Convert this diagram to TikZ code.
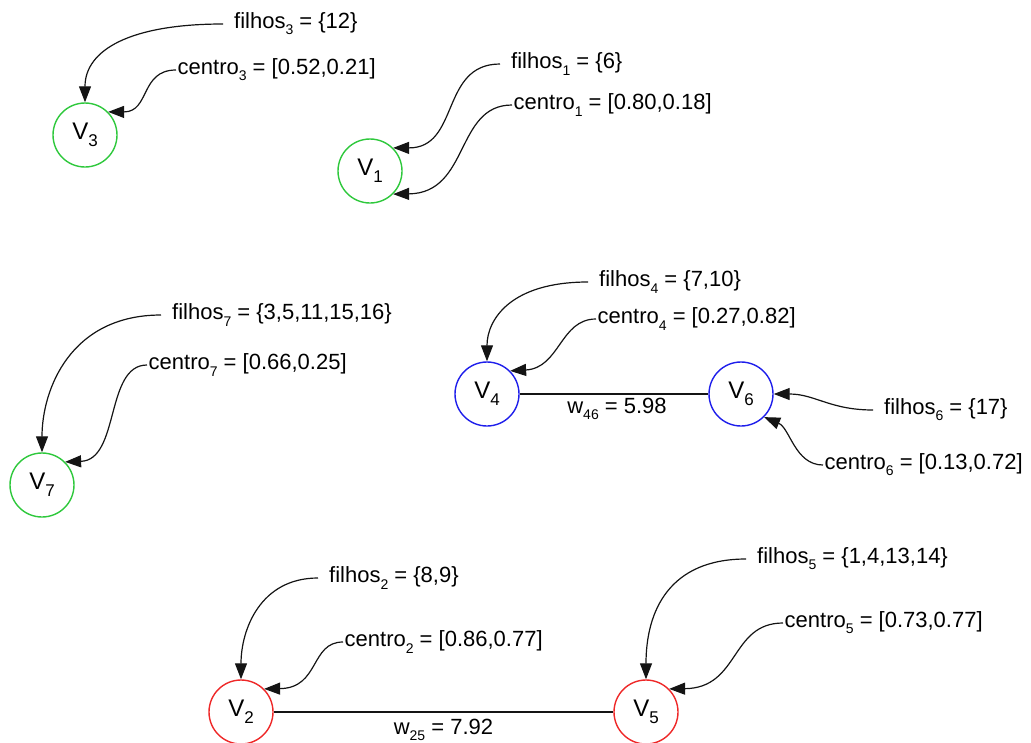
\documentclass[tikz,border=0pt]{standalone}
\usepackage{fontspec}
\setmainfont{Liberation Sans}
\usetikzlibrary{arrows.meta}
\definecolor{vgreen}{RGB}{46,200,60}
\definecolor{vblue}{RGB}{30,30,235}
\definecolor{vred}{RGB}{238,40,40}
\definecolor{wire}{RGB}{20,20,20}
% lowered, smaller index digits
\newcommand{\sbs}[1]{\raisebox{-0.28em}{\fontsize{14}{14}\selectfont #1}}
% vertex index digits
\newcommand{\vsb}[1]{\raisebox{-0.3em}{\fontsize{17}{17}\selectfont #1}}
\begin{document}
\begin{tikzpicture}[x=1pt,y=-1pt,
  txt/.style={font=\fontsize{22}{26}\selectfont},
  vtx/.style={circle,draw,line width=1.4pt,minimum size=64pt,inner sep=0pt,
    font=\fontsize{24}{28}\selectfont},
  grp1/.style={vtx,draw=vgreen},
  grp2/.style={vtx,draw=vblue},
  grp3/.style={vtx,draw=vred},
  kids/.style={txt,anchor=west,inner xsep=11pt,inner ysep=0pt},
  ctr/.style={txt,anchor=west,inner xsep=1.5pt,inner ysep=0pt},
  ptr/.style={draw=wire,line width=1.2pt,-{Triangle[length=16pt,width=12pt]}},
  link/.style={draw=wire,line width=1.3pt},
  wlab/.style={txt,inner sep=0pt}]
\useasboundingbox (0,0) rectangle (1031,742);

% clusters of vertices
\node[grp1] (V3) at (85,135) {V\vsb{3}};
\node[grp1] (V1) at (370,171) {V\vsb{1}};
\node[grp1] (V7) at (42,485) {V\vsb{7}};
\node[grp2] (V4) at (487,394) {V\vsb{4}};
\node[grp2] (V6) at (741,394) {V\vsb{6}};
\node[grp3] (V2) at (241,712) {V\vsb{2}};
\node[grp3] (V5) at (646,712) {V\vsb{5}};

% annotations
\node[kids] (f3) at (223,24) {filhos\sbs{3} = \{12\}};
\node[ctr]  (c3) at (176,70) {centro\sbs{3} = [0.52,0.21]};
\node[kids] (f1) at (500,64) {filhos\sbs{1} = \{6\}};
\node[ctr]  (c1) at (512,105) {centro\sbs{1} = [0.80,0.18]};
\node[kids] (f7) at (161,315) {filhos\sbs{7} = \{3,5,11,15,16\}};
\node[ctr]  (c7) at (147,365) {centro\sbs{7} = [0.66,0.25]};
\node[kids] (f4) at (588,282) {filhos\sbs{4} = \{7,10\}};
\node[ctr]  (c4) at (596,319) {centro\sbs{4} = [0.27,0.82]};
\node[kids] (f6) at (873,410) {filhos\sbs{6} = \{17\}};
\node[ctr]  (c6) at (823,465) {centro\sbs{6} = [0.13,0.72]};
\node[kids] (f2) at (318,578) {filhos\sbs{2} = \{8,9\}};
\node[ctr]  (c2) at (343,642) {centro\sbs{2} = [0.86,0.77]};
\node[kids] (f5) at (746,559) {filhos\sbs{5} = \{1,4,13,14\}};
\node[ctr]  (c5) at (783,623) {centro\sbs{5} = [0.73,0.77]};

% pointers from annotations to vertices
\draw[ptr] (f3.west) .. controls (130,24) and (85,50) .. (V3.north);
\draw[ptr] (c3.west) .. controls (140,70) and (150,112) .. (V3.45);
\draw[ptr] (f1.west) .. controls (440,64) and (460,148) .. (V1.45);
\draw[ptr] (c1.west) .. controls (455,105) and (470,193) .. (V1.-45);
\draw[ptr] (f7.west) .. controls (70,315) and (42,390) .. (V7.north);
\draw[ptr] (c7.west) .. controls (105,365) and (120,460) .. (V7.45);
\draw[ptr] (f4.west) .. controls (510,282) and (487,320) .. (V4.north);
\draw[ptr] (c4.west) .. controls (560,319) and (560,368) .. (V4.45);
\draw[ptr] (f6.west) .. controls (830,410) and (815,394) .. (V6.east);
\draw[ptr] (c6.west) .. controls (795,465) and (790,428) .. (V6.-45);
\draw[ptr] (f2.west) .. controls (260,578) and (241,630) .. (V2.north);
\draw[ptr] (c2.west) .. controls (310,642) and (320,688) .. (V2.45);
\draw[ptr] (f5.west) .. controls (670,559) and (646,610) .. (V5.north);
\draw[ptr] (c5.west) .. controls (730,623) and (740,688) .. (V5.45);

% weighted edges
\draw[link] (V4) -- node[wlab,below=3pt,xshift=3pt] (w46) {w\sbs{46} = 5.98} (V6);
\draw[link] (V2) -- node[wlab,below=6pt] (w25) {w\sbs{25} = 7.92} (V5);
\end{tikzpicture}
\end{document}
